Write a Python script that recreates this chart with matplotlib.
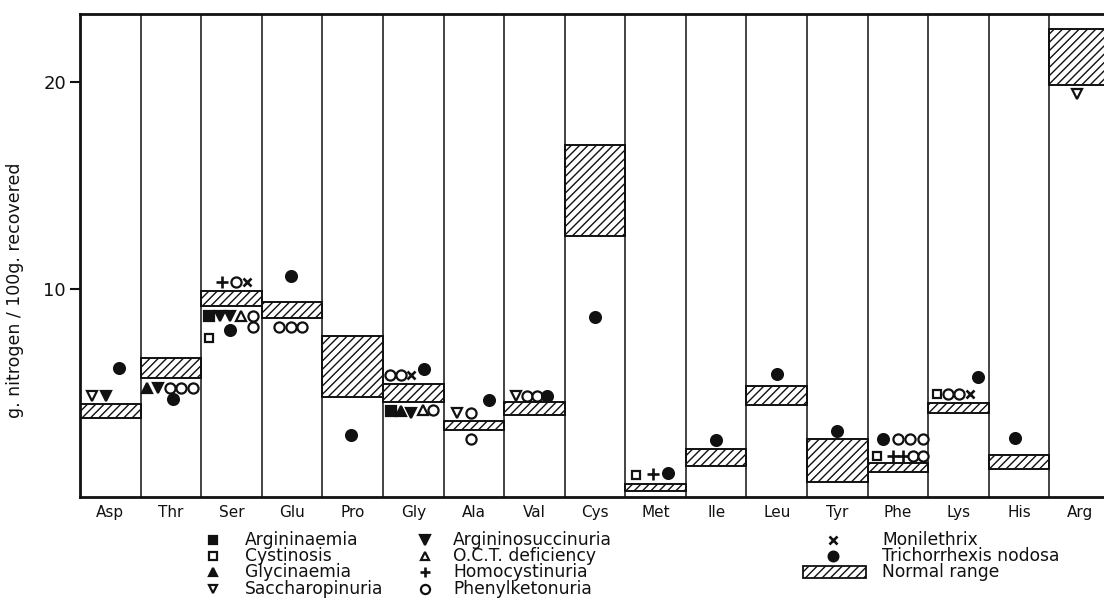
import matplotlib.pyplot as plt
from matplotlib.patches import Rectangle

plt.rcParams['font.family'] = ['DejaVu Sans']
plt.rcParams['hatch.linewidth'] = 1.0

# amino acids across the bottom, normal range per column
amino_acids = ['Asp', 'Thr', 'Ser', 'Glu', 'Pro', 'Gly', 'Ala', 'Val', 'Cys',
               'Met', 'Ile', 'Leu', 'Tyr', 'Phe', 'Lys', 'His', 'Arg']
normal_low = [3.78, 5.75, 9.20, 8.61, 4.83, 4.59, 3.23, 3.95, 12.58,
              0.29, 1.49, 4.43, 0.71, 1.22, 4.03, 1.33, 19.81]
normal_high = [4.47, 6.67, 9.94, 9.41, 7.76, 5.45, 3.66, 4.56, 16.96,
               0.63, 2.30, 5.35, 2.78, 1.65, 4.54, 2.02, 22.54]

# patient values: (amino acid, place inside the column, g N / 100 g)
argininaemia = [('Ser', 0.13, 8.73), ('Gly', 0.14, 4.15)]
cystinosis = [('Ser', 0.13, 7.65), ('Met', 0.17, 1.08), ('Phe', 0.16, 1.98),
              ('Lys', 0.15, 4.95)]
glycinaemia = [('Thr', 0.11, 5.27), ('Gly', 0.29, 4.15)]
saccharopinuria = [('Asp', 0.20, 4.85), ('Ala', 0.23, 4.05), ('Val', 0.19, 4.87),
                   ('Arg', 0.46, 19.42)]
argininosuccinuria = [('Asp', 0.43, 4.85), ('Thr', 0.28, 5.27), ('Ser', 0.31, 8.73),
                      ('Ser', 0.48, 8.73), ('Gly', 0.46, 4.02)]
oct_deficiency = [('Ser', 0.65, 8.73), ('Gly', 0.66, 4.17)]
homocystinuria = [('Ser', 0.35, 10.33), ('Met', 0.46, 1.12), ('Phe', 0.42, 1.98),
                  ('Phe', 0.59, 1.98)]
phenylketonuria = [('Thr', 0.49, 5.27), ('Thr', 0.67, 5.27), ('Thr', 0.86, 5.27),
                   ('Ser', 0.57, 10.33), ('Ser', 0.86, 8.73), ('Ser', 0.86, 8.17),
                   ('Glu', 0.29, 8.17), ('Glu', 0.48, 8.17), ('Glu', 0.67, 8.17),
                   ('Gly', 0.12, 5.85), ('Gly', 0.29, 5.85), ('Gly', 0.83, 4.17),
                   ('Ala', 0.45, 4.05), ('Ala', 0.45, 2.80),
                   ('Val', 0.37, 4.87), ('Val', 0.54, 4.87),
                   ('Phe', 0.50, 2.80), ('Phe', 0.70, 2.80), ('Phe', 0.91, 2.80),
                   ('Phe', 0.75, 1.98), ('Phe', 0.91, 1.98),
                   ('Lys', 0.33, 4.95), ('Lys', 0.50, 4.95)]
monilethrix = [('Ser', 0.75, 10.33), ('Gly', 0.47, 5.85), ('Lys', 0.69, 4.95)]
trichorrhexis = [('Asp', 0.65, 6.22), ('Thr', 0.54, 4.70), ('Ser', 0.48, 8.03),
                 ('Glu', 0.49, 10.62), ('Pro', 0.48, 2.98), ('Gly', 0.68, 6.18),
                 ('Ala', 0.75, 4.68), ('Val', 0.70, 4.87), ('Cys', 0.50, 8.67),
                 ('Met', 0.71, 1.17), ('Ile', 0.50, 2.74), ('Leu', 0.50, 5.93),
                 ('Tyr', 0.50, 3.20), ('Phe', 0.25, 2.80), ('Lys', 0.82, 5.78),
                 ('His', 0.43, 2.85)]

ink = '#111111'
# name, data, marker, filled, size
series = [
    ('Argininaemia', argininaemia, 's', True, 6.5),
    ('Cystinosis', cystinosis, 's', False, 6),
    ('Glycinaemia', glycinaemia, '^', True, 7),
    ('Saccharopinuria', saccharopinuria, 'v', False, 7),
    ('Argininosuccinuria', argininosuccinuria, 'v', True, 7.5),
    ('O.C.T. deficiency', oct_deficiency, '^', False, 7),
    ('Homocystinuria', homocystinuria, '+', True, 8),
    ('Phenylketonuria', phenylketonuria, 'o', False, 7.3),
    ('Monilethrix', monilethrix, 'x', True, 6),
    ('Trichorrhexis nodosa', trichorrhexis, 'o', True, 7.8),
]

fig = plt.figure(figsize=(11.04, 6.11), dpi=100)
ax = fig.add_axes([80 / 1104, 1 - 497 / 611, 1030 / 1104, 483 / 611])

n = len(amino_acids)
ax.set_xlim(0, n)
ax.set_ylim(0, 23.25)

# normal range bands
ax.bar(range(n), [h - l for l, h in zip(normal_low, normal_high)], bottom=normal_low,
       width=1, align='edge', facecolor='white', edgecolor=ink, hatch='////',
       linewidth=1.4, zorder=2)
for i in range(1, n):
    ax.axvline(i, color=ink, lw=1.1, zorder=3)


def style(marker, filled, size):
    kw = dict(marker=marker, linestyle='none', markersize=size, color=ink,
              markeredgecolor=ink)
    if marker in ('+', 'x'):
        kw['markeredgewidth'] = 1.9
    else:
        kw['markeredgewidth'] = 1.6
        kw['markerfacecolor'] = ink if filled else 'white'
    return kw


for name, pts, marker, filled, size in series:
    xs = [amino_acids.index(a) + off for a, off, v in pts]
    ys = [v for a, off, v in pts]
    ax.plot(xs, ys, zorder=4, clip_on=False, **style(marker, filled, size))

for side in ['left', 'bottom', 'top']:
    ax.spines[side].set_linewidth(2)
    ax.spines[side].set_color(ink)
ax.spines['right'].set_visible(False)

ax.set_yticks([10, 20])
ax.set_yticklabels(['10', '20'], fontsize=13)
ax.tick_params(axis='y', length=7, width=1.5, pad=3, colors=ink)
ax.set_xticks([i + 0.5 for i in range(n)])
ax.set_xticklabels(amino_acids, fontsize=11)
ax.tick_params(axis='x', length=0, pad=6, colors=ink)

fig.text(15 / 1104, 1 - 290 / 611, 'g. nitrogen / 100g. recovered', rotation=90,
         ha='center', va='center', fontsize=12.5, color=ink)

# legend in three columns, drawn in pixel units below the plot
lg = fig.add_axes([0, 0, 1, 1])
lg.set_xlim(0, 1104)
lg.set_ylim(611, 0)
lg.set_axis_off()
rows = [540, 556, 572, 589]
cols = [(213, 245), (425, 453), (833, 882)]
for k, (name, pts, marker, filled, size) in enumerate(series):
    cx, tx = cols[k // 4]
    y = rows[k % 4]
    kw = style(marker, filled, size * 0.9)
    lg.plot([cx], [y], **kw)
    lg.text(tx, y, name, ha='left', va='center', fontsize=12.3, color=ink)
lg.add_patch(Rectangle((803, rows[2] - 6), 63, 12, facecolor='white', edgecolor=ink,
                       hatch='////', linewidth=1.3))
lg.text(cols[2][1], rows[2], 'Normal range', ha='left', va='center', fontsize=12.3,
        color=ink)

plt.savefig('out.png', dpi=100)
